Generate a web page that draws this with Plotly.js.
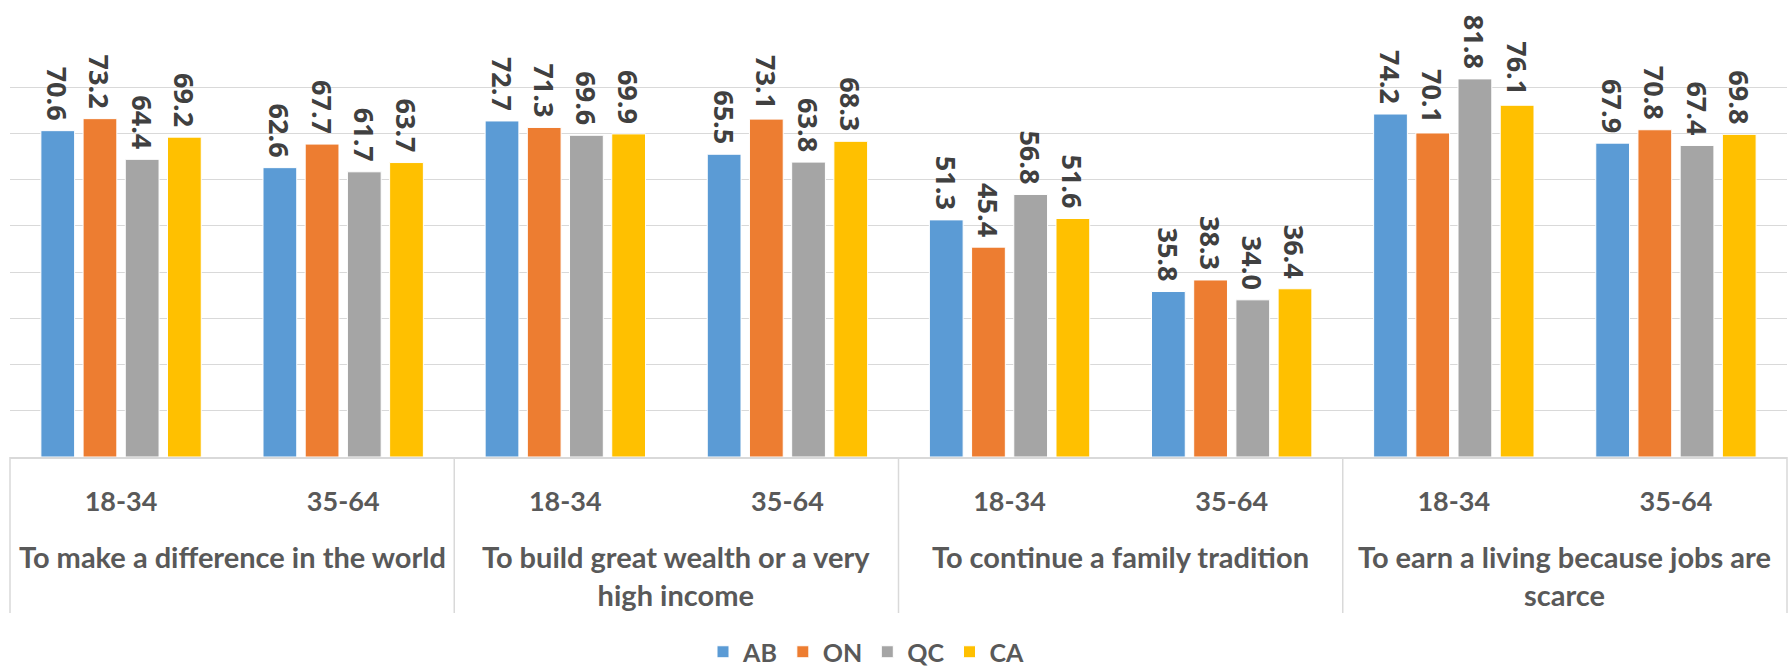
<!DOCTYPE html>
<html>
<head>
<meta charset="utf-8">
<script src="https://cdn.plot.ly/plotly-3.0.1.min.js"></script>
<style>html,body{margin:0;padding:0;background:#fff;}#chart{width:1792px;height:666px;}</style>
</head>
<body>
<div id="chart"></div>
<script>
var categories = [
  "To make a difference in the world",
  "To build great wealth or a very<br>high income",
  "To continue a family tradition",
  "To earn a living because jobs are<br>scarce"
];
var ageGroups = ["18-34", "35-64"];
var seriesNames = ["AB", "ON", "QC", "CA"];
var seriesColors = ["#5B9BD5", "#ED7D31", "#A5A5A5", "#FFC000"];
var AB = [70.6, 62.6, 72.7, 65.5, 51.3, 35.8, 74.2, 67.9];
var ON = [73.2, 67.7, 71.3, 73.1, 45.4, 38.3, 70.1, 70.8];
var QC = [64.4, 61.7, 69.6, 63.8, 56.8, 34.0, 81.8, 67.4];
var CA = [69.2, 63.7, 69.9, 68.3, 51.6, 36.4, 76.1, 69.8];
var seriesValues = [AB, ON, QC, CA];

// one slot per (category, age group)
var slotIndex = [], slotLabels = [];
categories.forEach(function (c, ci) {
  ageGroups.forEach(function (a, ai) {
    slotIndex.push(ci * ageGroups.length + ai);
    slotLabels.push(a);
  });
});
var nSlots = slotIndex.length;

var traces = seriesNames.map(function (name, i) {
  return {
    type: "bar",
    name: name,
    x: slotIndex,
    y: seriesValues[i],
    marker: { color: seriesColors[i], line: { color: "#ffffff", width: 1 } },
    texttemplate: "%{y:.1f} ",
    textposition: "outside",
    textangle: 90,
    constraintext: "none",
    cliponaxis: false,
    textfont: { family: "Open Sans", size: 27, color: "#404040", weight: "bold" },
    hoverinfo: "skip"
  };
});

var plotH = 666 - 41 - 209;
var dividerDepth = 156 / plotH;

var annotations = categories.map(function (c, ci) {
  return {
    text: c,
    xref: "x", yref: "paper",
    x: ci * ageGroups.length + (ageGroups.length - 1) / 2,
    y: -80 / plotH,
    xanchor: "center", yanchor: "top",
    showarrow: false,
    align: "center",
    font: { family: "Lato", size: 29, color: "#595959", weight: "bold" }
  };
});

var shapes = [];
for (var k = 0; k <= categories.length; k++) {
  shapes.push({
    type: "line", xref: "paper", yref: "paper",
    x0: k / categories.length, x1: k / categories.length,
    y0: 0, y1: -dividerDepth,
    line: { color: "#d9d9d9", width: 1.5 }
  });
}

var layout = {
  width: 1792,
  height: 666,
  margin: { l: 10, r: 5, t: 41, b: 209, autoexpand: false },
  paper_bgcolor: "#ffffff",
  plot_bgcolor: "#ffffff",
  barmode: "group",
  bargap: 0.24,
  bargroupgap: 0.2,
  showlegend: true,
  legend: {
    orientation: "h",
    x: 0.482, xanchor: "center",
    y: -195 / plotH, yanchor: "middle",
    font: { family: "Lato", size: 25, color: "#595959", weight: "bold" },
    itemclick: false
  },
  annotations: annotations,
  shapes: shapes,
  xaxis: {
    type: "linear",
    range: [-0.5, nSlots - 0.5],
    tickvals: slotIndex,
    ticktext: slotLabels,
    showline: true,
    linecolor: "#d9d9d9",
    linewidth: 1.5,
    showgrid: false,
    zeroline: false,
    ticks: "outside",
    ticklen: 20,
    tickcolor: "rgba(0,0,0,0)",
    automargin: false,
    tickfont: { family: "Lato", size: 27, color: "#595959", weight: "bold" },
    fixedrange: true
  },
  yaxis: {
    range: [0, 90],
    dtick: 10,
    showticklabels: false,
    showgrid: true,
    gridcolor: "#d9d9d9",
    gridwidth: 1,
    zeroline: false,
    automargin: false,
    fixedrange: true
  }
};

Plotly.newPlot("chart", traces, layout, { displayModeBar: false, staticPlot: true });
</script>
</body>
</html>
